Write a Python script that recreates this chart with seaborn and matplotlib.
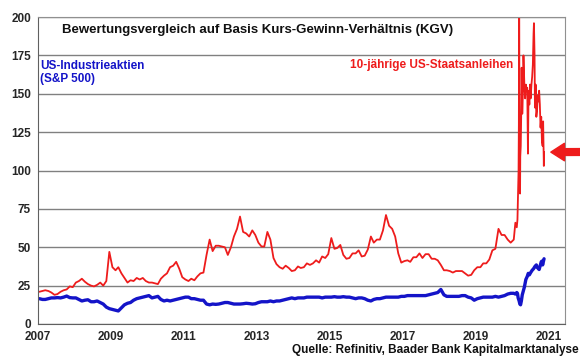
import matplotlib
matplotlib.use("Agg")
import matplotlib.pyplot as plt
import numpy as np
import pandas as pd
import seaborn as sns

# KGV (Kurs-Gewinn-Verhaeltnis), monatlich 2007-2019
kgv_anleihen_monat = [
    21.0, 21.5, 22.0, 21.5, 20.5, 19.0, 19.5, 21.0, 22.0, 22.5, 24.5, 24.0,   # 2007
    27.0, 28.0, 29.5, 27.5, 26.0, 25.0, 24.5, 25.5, 27.0, 25.0, 28.0, 47.0,   # 2008
    37.0, 35.0, 37.0, 33.0, 30.0, 27.0, 28.5, 28.0, 30.0, 29.0, 30.0, 28.0,   # 2009
    27.0, 27.0, 26.5, 26.0, 29.5, 31.5, 33.0, 37.0, 38.0, 40.5, 36.0, 30.5,   # 2010
    29.0, 28.0, 29.5, 28.5, 31.0, 33.0, 33.5, 45.0, 55.0, 47.5, 51.0, 51.0,   # 2011
    50.5, 50.0, 45.0, 50.0, 57.0, 62.0, 70.0, 60.0, 59.0, 57.0, 61.0, 58.0,   # 2012
    53.0, 50.5, 50.5, 60.0, 55.0, 43.0, 39.0, 37.0, 36.0, 38.0, 36.5, 34.5,   # 2013
    35.0, 37.5, 36.5, 37.0, 39.5, 38.5, 39.5, 41.5, 40.0, 44.0, 43.0, 45.5,   # 2014
    56.0, 49.0, 49.5, 51.5, 45.0, 42.5, 43.0, 46.0, 46.0, 48.0, 44.0, 44.5,   # 2015
    48.5, 57.0, 53.0, 55.0, 55.0, 61.0, 71.0, 64.0, 62.0, 57.0, 46.0, 40.0,   # 2016
    41.0, 41.5, 40.5, 43.5, 43.5, 46.0, 43.0, 45.5, 45.5, 42.5, 42.5, 41.5,   # 2017
    38.5, 35.0, 35.0, 34.5, 33.5, 34.5, 34.5, 34.5, 33.0, 31.5, 32.0, 35.0,   # 2018
    37.0, 37.0, 39.5, 39.5, 42.0, 48.0, 49.0, 62.0, 58.0, 58.0, 55.0, 53.0,   # 2019
]
kgv_aktien_monat = [
    16.5, 16.0, 16.0, 16.5, 17.0, 17.0, 17.2, 17.0, 17.5, 18.2, 17.2, 17.0,   # 2007
    17.0, 16.0, 15.0, 15.5, 15.8, 14.5, 14.5, 15.0, 14.0, 13.0, 11.0, 10.0,   # 2008
    9.5, 9.0, 8.5, 10.5, 12.5, 13.5, 14.0, 15.5, 16.5, 17.0, 17.5, 18.0,      # 2009
    18.5, 17.0, 17.5, 18.0, 16.0, 15.0, 15.5, 15.0, 15.5, 16.0, 16.5, 17.0,   # 2010
    17.5, 17.5, 16.5, 16.5, 16.0, 15.5, 15.5, 13.0, 12.5, 13.0, 12.8, 13.0,   # 2011
    13.5, 14.0, 14.0, 13.5, 13.0, 13.0, 13.0, 13.2, 13.5, 13.3, 13.0, 13.2,   # 2012
    14.0, 14.5, 14.5, 14.5, 15.0, 14.5, 15.0, 15.0, 15.5, 16.0, 16.5, 17.0,   # 2013
    16.5, 17.0, 17.0, 17.0, 17.5, 17.5, 17.5, 17.5, 17.5, 17.0, 17.5, 17.5,   # 2014
    17.5, 17.8, 17.5, 17.5, 17.8, 17.5, 17.5, 17.0, 16.5, 17.0, 17.0, 16.5,   # 2015
    15.5, 15.0, 16.0, 16.5, 16.5, 17.0, 17.5, 17.5, 17.5, 17.5, 17.5, 18.0,   # 2016
    18.0, 18.5, 18.5, 18.5, 18.5, 18.5, 18.5, 18.5, 19.0, 19.5, 20.0, 20.5,   # 2017
    22.5, 19.0, 18.0, 18.0, 18.0, 18.0, 18.0, 18.5, 18.5, 17.5, 17.0, 15.5,   # 2018
    16.5, 17.0, 17.5, 17.5, 17.5, 17.5, 18.0, 17.5, 18.0, 18.5, 19.5, 20.0,   # 2019
]

# 2020 in dichterer Aufloesung
anleihen_2020_datum = [
    "2020-01-15", "2020-01-31", "2020-02-14", "2020-02-21", "2020-02-28",
    "2020-03-03", "2020-03-06", "2020-03-09", "2020-03-12", "2020-03-18",
    "2020-03-20", "2020-03-25", "2020-03-31", "2020-04-03", "2020-04-09",
    "2020-04-17", "2020-04-21", "2020-04-30", "2020-05-08", "2020-05-15",
    "2020-05-22", "2020-05-29", "2020-06-05", "2020-06-11", "2020-06-19",
    "2020-06-26", "2020-07-02", "2020-07-10", "2020-07-17", "2020-07-24",
    "2020-07-31", "2020-08-04", "2020-08-10", "2020-08-14", "2020-08-21",
    "2020-08-28", "2020-09-04", "2020-09-11", "2020-09-18", "2020-09-25",
    "2020-10-02", "2020-10-09", "2020-10-16", "2020-10-23", "2020-10-30",
    "2020-11-04", "2020-11-09", "2020-11-11", "2020-11-13",
]
anleihen_2020 = [
    55, 66, 63, 68, 88,
    100, 130, 230, 120, 85,
    109, 116, 143, 167, 137,
    154, 175, 156, 147, 156,
    152, 154, 111, 152, 143,
    156, 147, 156, 161, 169,
    189, 196, 175, 141, 156,
    135, 139, 149, 145, 152,
    143, 128, 135, 119, 116,
    132, 108, 103, 112,
]
aktien_2020_datum = [
    "2020-01-15", "2020-01-31", "2020-02-14", "2020-02-21", "2020-02-28",
    "2020-03-09", "2020-03-16", "2020-03-23", "2020-03-31", "2020-04-09",
    "2020-04-17", "2020-04-30", "2020-05-15", "2020-05-29", "2020-06-08",
    "2020-06-19", "2020-07-02", "2020-07-17", "2020-07-31", "2020-08-14",
    "2020-08-28", "2020-09-04", "2020-09-18", "2020-09-25", "2020-10-09",
    "2020-10-16", "2020-10-23", "2020-10-30", "2020-11-09", "2020-11-13",
]
aktien_2020 = [
    20.0, 19.5, 20.5, 20.0, 17.0,
    15.0, 13.0, 12.5, 15.0, 19.0,
    21.0, 24.0, 29.0, 31.0, 33.0,
    32.0, 33.5, 35.0, 36.0, 37.5,
    38.5, 37.0, 36.0, 35.5, 39.0,
    40.5, 41.0, 38.5, 41.5, 42.5,
]

jahre = ["2007", "2009", "2011", "2013", "2015", "2017", "2019", "2021"]

monate = pd.date_range("2007-01-01", "2019-12-01", freq="MS") + pd.Timedelta(days=14)

df_anl = pd.DataFrame({
    "datum": list(monate) + list(pd.to_datetime(anleihen_2020_datum)),
    "kgv": kgv_anleihen_monat + anleihen_2020,
})
df_akt = pd.DataFrame({
    "datum": list(monate) + list(pd.to_datetime(aktien_2020_datum)),
    "kgv": kgv_aktien_monat + aktien_2020,
})

rot = "#ee1c1c"
blau = "#1414c8"

sns.set_style("white")
plt.rcParams["font.family"] = ["Liberation Sans", "DejaVu Sans"]

fig = plt.figure(figsize=(5.8, 3.59), dpi=100)
ax = fig.add_axes([0.0655, 0.0975, 0.9085, 0.855])

sns.lineplot(data=df_anl, x="datum", y="kgv", color=rot, lw=1.3, ax=ax)
sns.lineplot(data=df_akt, x="datum", y="kgv", color=blau, lw=2.4, ax=ax)

ax.set_ylim(0, 200)
ax.set_xlim(pd.Timestamp("2007-01-01"), pd.Timestamp("2021-06-10"))
ax.set_yticks(np.arange(0, 201, 25))
ax.set_xticks(pd.to_datetime([j + "-01-01" for j in jahre]))
ax.set_xticklabels(jahre)
ax.set_xlabel("")
ax.set_ylabel("")
ax.yaxis.grid(True, color="#808080", lw=1)
ax.set_axisbelow(True)

ax.spines["top"].set_color("#909090")
ax.spines["right"].set_color("#909090")
ax.spines["left"].set_color("#606060")
ax.spines["bottom"].set_color("#606060")
ax.tick_params(axis="both", length=3, width=1, color="#606060", pad=2)
for lab in ax.get_xticklabels() + ax.get_yticklabels():
    lab.set_fontweight("bold")
    lab.set_fontsize(8.5)

ax.text(0.417, 0.958, "Bewertungsvergleich auf Basis Kurs-Gewinn-Verhältnis (KGV)",
        transform=ax.transAxes, ha="center", va="center", fontsize=9.5,
        fontweight="bold", color="#111111")
ax.text(0.004, 0.82, "US-Industrieaktien\n(S&P 500)", transform=ax.transAxes,
        ha="left", va="center", fontsize=8.5, fontweight="bold", color=blau,
        linespacing=1.15)
ax.text(0.901, 0.844, "10-jährige US-Staatsanleihen", transform=ax.transAxes,
        ha="right", va="center", fontsize=8.5, fontweight="bold", color=rot)
fig.text(0.997, 0.025, "Quelle: Refinitiv, Baader Bank Kapitalmarktanalyse",
         ha="right", va="center", fontsize=8.5, fontweight="bold", color="#111111")

ax.annotate("", xy=(pd.Timestamp("2021-01-20"), 112), xycoords="data",
            xytext=(1.03, 0.5768), textcoords="figure fraction",
            arrowprops=dict(arrowstyle="simple,head_length=0.7,head_width=0.9,tail_width=0.35",
                            color=rot, mutation_scale=14, shrinkA=0, shrinkB=0),
            annotation_clip=False)

fig.savefig("out.png", dpi=100)
